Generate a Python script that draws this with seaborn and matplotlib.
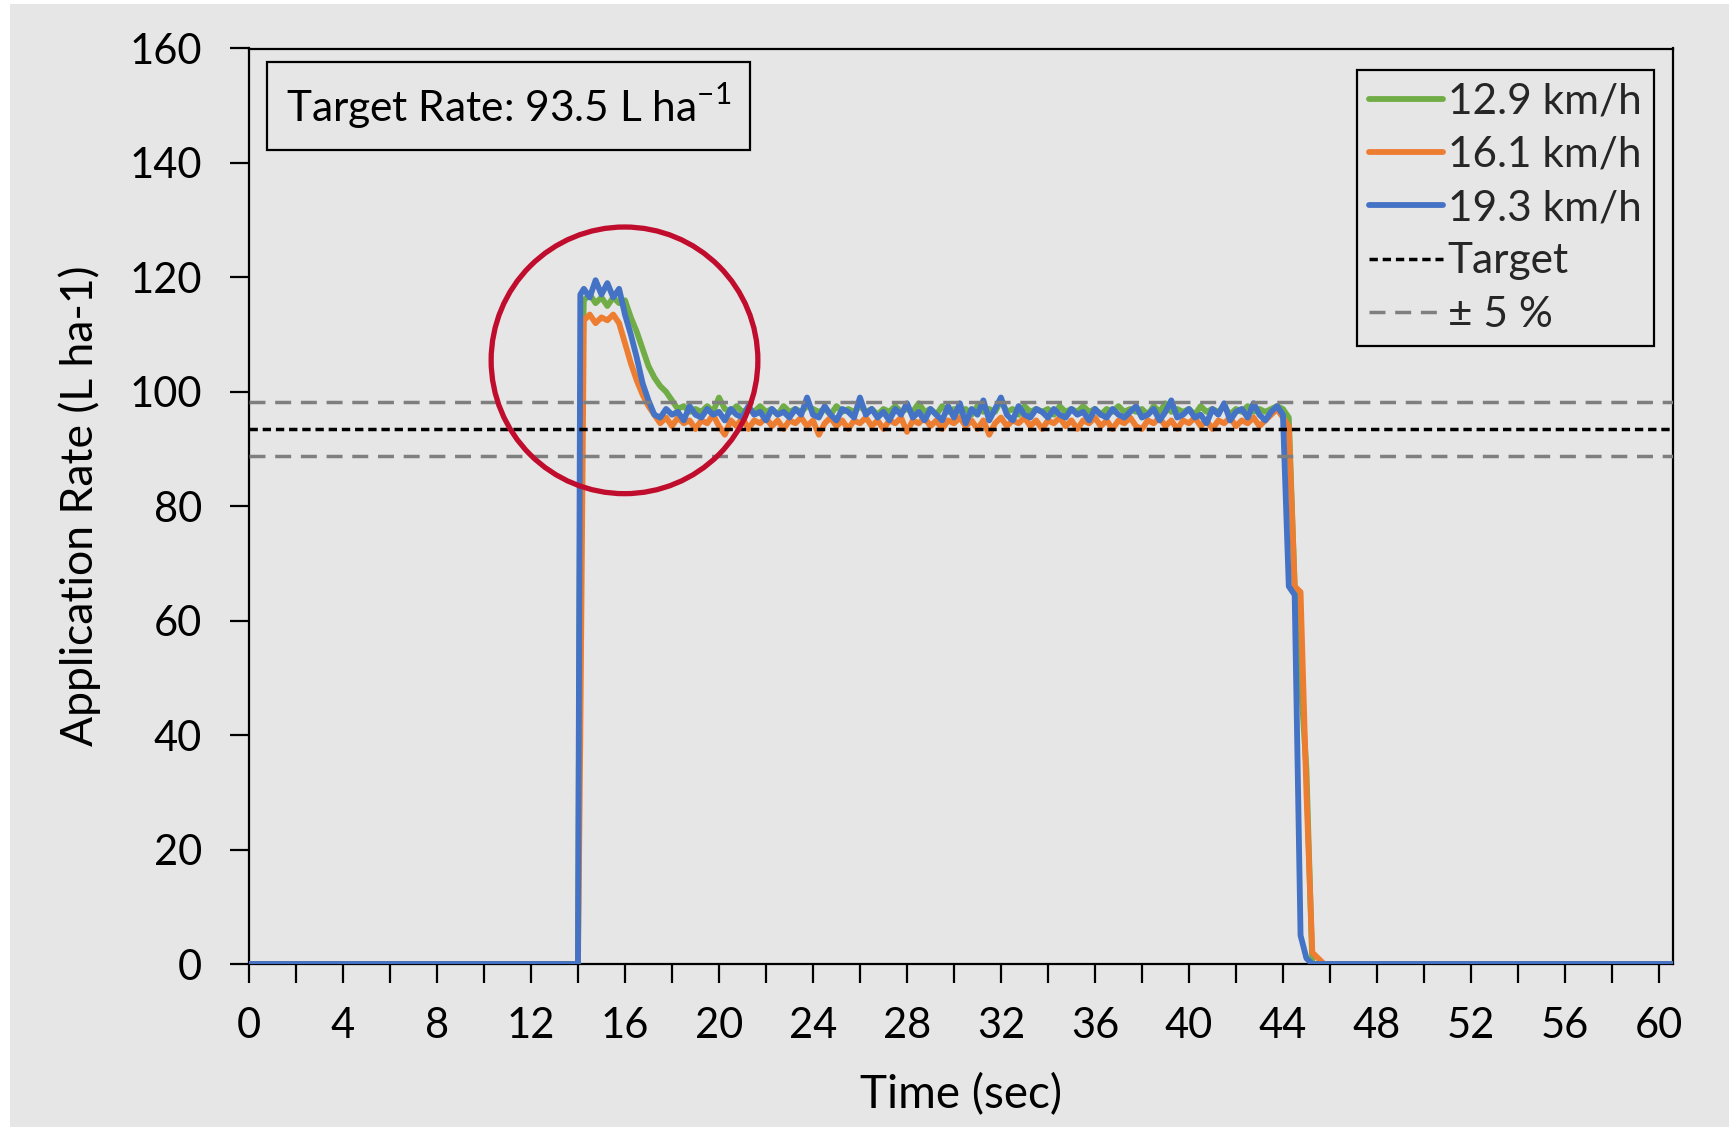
import numpy as np
import pandas as pd
import seaborn as sns
import matplotlib.pyplot as plt
from matplotlib.patches import Ellipse, Rectangle
from matplotlib.ticker import MultipleLocator

# sample times (s): start, rise, then 0.25 s samples 14.25 .. 46.0, end
time_s = [0.0, 14.0, 14.1,
          14.25, 14.5, 14.75, 15.0, 15.25, 15.5, 15.75, 16.0,
          16.25, 16.5, 16.75, 17.0, 17.25, 17.5, 17.75, 18.0,
          18.25, 18.5, 18.75, 19.0, 19.25, 19.5, 19.75, 20.0,
          20.25, 20.5, 20.75, 21.0, 21.25, 21.5, 21.75, 22.0,
          22.25, 22.5, 22.75, 23.0, 23.25, 23.5, 23.75, 24.0,
          24.25, 24.5, 24.75, 25.0, 25.25, 25.5, 25.75, 26.0,
          26.25, 26.5, 26.75, 27.0, 27.25, 27.5, 27.75, 28.0,
          28.25, 28.5, 28.75, 29.0, 29.25, 29.5, 29.75, 30.0,
          30.25, 30.5, 30.75, 31.0, 31.25, 31.5, 31.75, 32.0,
          32.25, 32.5, 32.75, 33.0, 33.25, 33.5, 33.75, 34.0,
          34.25, 34.5, 34.75, 35.0, 35.25, 35.5, 35.75, 36.0,
          36.25, 36.5, 36.75, 37.0, 37.25, 37.5, 37.75, 38.0,
          38.25, 38.5, 38.75, 39.0, 39.25, 39.5, 39.75, 40.0,
          40.25, 40.5, 40.75, 41.0, 41.25, 41.5, 41.75, 42.0,
          42.25, 42.5, 42.75, 43.0, 43.25, 43.5, 43.75, 44.0,
          44.25, 44.5, 44.75, 45.0, 45.25, 45.5, 45.75, 46.0,
          60.6]

rate_129 = [0, 0, 90,
            116, 117, 115.5, 116.5, 115, 116.5, 115.5, 116,
            113, 110.5, 107.5, 104.5, 102.5, 101, 100, 98.5,
            97, 97.5, 96.5, 97, 96.5, 97.5, 96.5, 99,
            97, 96.5, 97.5, 96.5, 97, 96.5, 97.5, 96.5,
            97, 96, 97.5, 96.5, 97, 96.5, 97.5, 97,
            96.5, 97, 96, 97.5, 96.5, 97, 96.5, 97.5,
            96.5, 97, 96, 97, 96.5, 97.5, 96.5, 97,
            96.5, 98, 96.5, 97, 96, 97.5, 96.5, 97,
            96.5, 97, 96, 97.5, 96.5, 97, 96.5, 98.5,
            96.5, 97, 96, 97.5, 96.5, 97, 96.5, 97,
            96, 97.5, 96.5, 97, 96.5, 97.5, 96.5, 97,
            96, 97, 96.5, 97.5, 96.5, 97, 96.5, 97,
            96, 97.5, 96.5, 98, 96.5, 97, 96.5, 97,
            96, 97.5, 96.5, 97, 96.5, 97.5, 96, 97,
            96.5, 97.5, 96.5, 97, 96.5, 97, 97.5, 97,
            95.5, 66, 50, 34, 0, 0, 0, 0,
            0]

rate_161 = [0, 0, 40,
            112.5, 113.5, 112, 113, 112.5, 113.5, 112, 108.5,
            105, 102, 99.5, 97.5, 96, 94.5, 95.5, 94,
            95.5, 94.5, 95, 93.5, 95, 94.5, 96, 94,
            92.5, 95, 94, 95.5, 93.5, 95, 94.5, 95.5,
            94, 95, 93.5, 95, 94.5, 95.5, 94, 95,
            92.5, 94.5, 95.5, 94, 95, 93.5, 95, 94.5,
            95.5, 94, 95, 93.5, 95, 94.5, 95.5, 93,
            95, 94.5, 95.5, 94, 95, 93.5, 95, 94.5,
            95.5, 94, 95, 93.5, 95, 92.5, 94.5, 95.5,
            94, 95, 94.5, 95.5, 94, 95, 93.5, 95,
            94.5, 95.5, 94, 95, 93.5, 95, 94.5, 95.5,
            94, 95, 93.5, 95, 94.5, 95.5, 94, 93.5,
            95, 94.5, 95.5, 94, 95, 93.5, 95, 94.5,
            95.5, 94, 95, 93.5, 95, 94.5, 95.5, 94,
            95, 94.5, 95.5, 94, 95, 96, 97, 95.5,
            94, 66, 65, 30, 2, 1, 0, 0,
            0]

rate_193 = [0, 0, 117,
            118, 116.5, 119.5, 117, 119, 116.5, 118, 113.5,
            110, 106, 101.5, 98.5, 96, 95.5, 97, 96,
            96.5, 95, 97.5, 96, 95.5, 97, 96, 96.5,
            95, 97, 96, 95.5, 97.5, 96, 96.5, 95,
            97, 96, 96.5, 95.5, 97, 96, 99, 96,
            95.5, 97.5, 96, 95, 97, 96.5, 95.5, 99,
            96, 97, 95.5, 96.5, 95, 97, 96, 98,
            95.5, 96.5, 95, 97, 96, 95, 97.5, 95.5,
            98, 94.5, 97, 96, 98.5, 95, 97, 99,
            96, 95, 97.5, 96, 95.5, 97, 96.5, 95.5,
            97, 96, 95.5, 97, 96, 96.5, 95, 97,
            96, 95.5, 97, 96, 95.5, 96.5, 97.5, 95.5,
            96, 97, 95, 96.5, 98.5, 95.5, 96, 97,
            95.5, 96, 94.5, 97, 96, 98, 95, 96.5,
            97, 95.5, 98, 96, 95, 96.5, 97.5, 96,
            66, 64.5, 5, 1, 0, 0, 0, 0,
            0]

speeds = ["12.9 km/h", "16.1 km/h", "19.3 km/h"]
colors = ["#70AD47", "#ED7D31", "#4472C4"]
target_rate = 93.5
band_pct = 5

x_ticks = [0, 4, 8, 12, 16, 20, 24, 28, 32, 36, 40, 44, 48, 52, 56, 60]
y_ticks = [0, 20, 40, 60, 80, 100, 120, 140, 160]

df = pd.DataFrame({
    "Time": time_s * 3,
    "Rate": rate_129 + rate_161 + rate_193,
    "Speed": [s for s in speeds for _ in time_s],
})

sns.set_theme(style="ticks")
plt.rcParams["font.family"] = ["Lato", "DejaVu Sans"]
plt.rcParams["mathtext.fontset"] = "custom"
plt.rcParams["mathtext.rm"] = "Lato"

bg = "#E6E6E6"
fig = plt.figure(figsize=(17.29, 11.27), dpi=100, facecolor=bg)
ax = fig.add_axes([249 / 1729, 1 - 964 / 1127, (1673 - 249) / 1729, (964 - 48.5) / 1127])
ax.set_facecolor(bg)

# thin white strips of the original image edges
fig.patches.append(Rectangle((0, 0), 10 / 1729, 1, transform=fig.transFigure,
                             facecolor="white", edgecolor="none", zorder=0))
fig.patches.append(Rectangle((0, 1 - 4 / 1127), 1, 4 / 1127, transform=fig.transFigure,
                             facecolor="white", edgecolor="none", zorder=0))

for speed, col in zip(speeds, colors):
    sns.lineplot(data=df[df["Speed"] == speed], x="Time", y="Rate", color=col,
                 linewidth=4.2, estimator=None, sort=False, label=speed, ax=ax,
                 solid_capstyle="round", solid_joinstyle="round", zorder=3)

ax.axhline(target_rate, color="black", linewidth=2.5, dashes=(2.4, 1.4),
           label="Target", zorder=4)
ax.axhline(target_rate * (1 + band_pct / 100), color="#7F7F7F", linewidth=2.5,
           dashes=(4.6, 2.8), label="\u00b1 5 %", zorder=4)
ax.axhline(target_rate * (1 - band_pct / 100), color="#7F7F7F", linewidth=2.5,
           dashes=(4.6, 2.8), zorder=4)

ax.add_patch(Ellipse((15.98, 105.5), width=11.35, height=46.6, fill=False,
                     edgecolor="#C00D2D", linewidth=3.8, zorder=5))

ax.set_xlim(0, 60.6)
ax.set_ylim(0, 160)
ax.set_xticks(x_ticks)
ax.xaxis.set_minor_locator(MultipleLocator(2))
ax.set_yticks(y_ticks)
for sp in ax.spines.values():
    sp.set_visible(True)
    sp.set_color("black")
    sp.set_linewidth(1.6)
ax.tick_params(axis="both", which="both", direction="out", length=14, width=1.6,
               color="black")
ax.tick_params(axis="both", which="major", labelsize=30, labelcolor="black")
ax.tick_params(axis="y", pad=20)
ax.tick_params(axis="x", pad=17)

ax.set_xlabel("Time (sec)", fontsize=33, color="black", labelpad=20)
ax.set_ylabel("Application Rate (L ha-1)", fontsize=32, color="black", labelpad=20)

ax.text(0.026, 0.964, r"Target Rate: 93.5 L ha$^{\mathregular{-1}}$", transform=ax.transAxes,
        fontsize=30.5, ha="left", va="top", color="black",
        bbox=dict(boxstyle="square,pad=0.45", facecolor=bg, edgecolor="black", linewidth=1.6))

leg = ax.legend(loc="upper right", bbox_to_anchor=(0.9867, 0.9765), fontsize=30.5,
                frameon=True, fancybox=False, edgecolor="black", facecolor=bg,
                framealpha=1, handlelength=1.75, handletextpad=0.1,
                labelspacing=0.36, borderpad=0.3, borderaxespad=0)
leg.get_frame().set_linewidth(1.6)

fig.savefig("out.png", dpi=100, facecolor=bg)
